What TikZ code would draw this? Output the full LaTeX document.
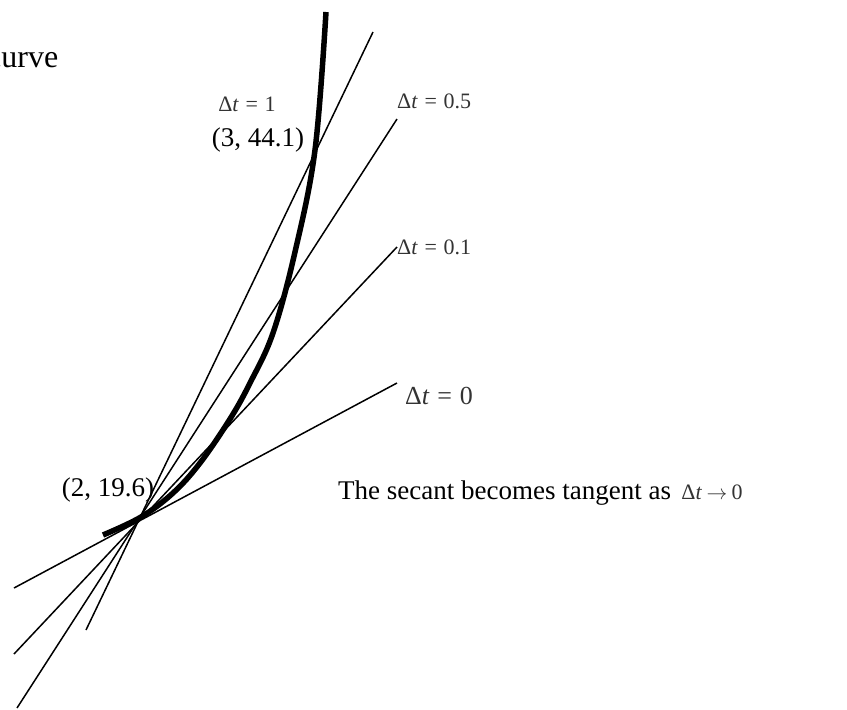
\documentclass[tikz,border=0pt]{standalone}
\usepackage{fontspec}
\setmainfont{Liberation Serif}
\usepackage{tikz}
\usetikzlibrary{positioning}
\tikzset{
  secant/.style   = {line width=1.5pt, black},
  poscurve/.style = {line width=5.5pt, black},
  txt/.style      = {inner sep=0pt, font=\fontsize{27}{32}\selectfont},
  dtlbl/.style    = {inner sep=0pt, text=black!80, font=\fontsize{22}{26}\selectfont},
  dtbig/.style    = {inner sep=0pt, text=black!80, font=\fontsize{26}{30}\selectfont}
}
\newcommand{\dteq}[1]{Δ\textit{t}\hspace{0.3em}=\hspace{0.3em}#1}

\begin{document}
\begin{tikzpicture}[x=1pt, y=-1pt]
\useasboundingbox (0,0) rectangle (847,710);

% point of tangency and far ends of the secants
\coordinate (P) at (141,517);
\coordinate (s1a) at (86,630);   \coordinate (s1b) at (373,32);
\coordinate (s2a) at (17,708);   \coordinate (s2b) at (397,119);
\coordinate (s3a) at (14,654);   \coordinate (s3b) at (397,247);
\coordinate (s4a) at (14,588);   \coordinate (s4b) at (397,383);

\draw[secant] (s1a) -- (s1b);
\draw[secant] (s2a) -- (s2b);
\draw[secant] (s3a) -- (s3b);
\draw[secant] (s4a) -- (s4b);

\draw[poscurve] plot[smooth, tension=0.6] coordinates
  {(103,535) (P) (173,493) (200,463) (230,419) (250,383)
   (273,333) (295,252) (315,150) (326,12)};

\node[txt, anchor=west, font=\fontsize{32}{38}\selectfont] (crv) at (-13,60) {curve};
\node[dtlbl] (l1) at (247,104) {\dteq{1}};
\node[txt] (q) at (258,140) {(3, 44.1)};
\node[dtlbl, anchor=west] (l2) at (397,101) {\dteq{0.5}};
\node[dtlbl, anchor=west] (l3) at (s3b) {\dteq{0.1}};
\node[dtbig, anchor=west] (l4) at (405,396) {\dteq{0}};
\node[txt] (p) at (108,490) {(2, 19.6)};

\node[txt, anchor=west] (sec) at (338,493) {The secant becomes tangent as};
\node[dtlbl, base right=10pt of sec.base east] (lim)
  {Δ\textit{t}\hspace{0.2em}$\rightarrow$\hspace{0.2em}0};
\end{tikzpicture}
\end{document}
